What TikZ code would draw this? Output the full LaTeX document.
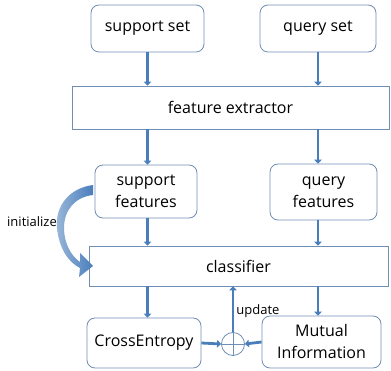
\documentclass[tikz,border=0pt]{standalone}
\usepackage{fontspec}
\setmainfont{Open Sans}
\usetikzlibrary{arrows.meta}
\definecolor{linkblue}{RGB}{74,126,187}
\definecolor{edgegray}{RGB}{112,142,180}
\tikzset{
  rbox/.style={draw=edgegray, line width=0.8pt, rounded corners=8pt, align=center, inner sep=0pt, font=\fontsize{16}{22}\selectfont},
  sbox/.style={draw=edgegray, line width=0.8pt, inner sep=0pt, font=\fontsize{16}{22}\selectfont},
  flow/.style={draw=linkblue, line width=2.8pt, -{Triangle[length=4pt,width=7.5pt]}},
}
\begin{document}
\begin{tikzpicture}[x=1pt,y=-1pt]
	\useasboundingbox (0,0) rectangle (391,371);
	% boxes
	\node[rbox, minimum width=113pt, minimum height=47pt] (sset) at (147.5,28.5) {support set};
	\node[rbox, minimum width=116pt, minimum height=47pt] (qset) at (318,28.5) {query set};
	\node[sbox, minimum width=317pt, minimum height=43pt] (fext) at (230.5,107.5) {feature extractor};
	\node[rbox, minimum width=102pt, minimum height=53pt] (sfeat) at (146,191.5) {support\\features};
	\node[rbox, minimum width=107pt, minimum height=56pt] (qfeat) at (323.5,192) {query\\features};
	\node[sbox, minimum width=299pt, minimum height=40pt] (clf) at (238.5,266) {classifier};
	\node[rbox, minimum width=114pt, minimum height=50pt] (ce) at (144,343) {CrossEntropy};
	\node[rbox, minimum width=119pt, minimum height=52pt] (mi) at (321.5,342) {Mutual\\Information};
	\node[draw=edgegray, circle, minimum size=23pt, inner sep=0pt, line width=0.8pt] (sum) at (233,344) {};
	\draw[edgegray, line width=0.8pt] (sum.north) -- (sum.south) (sum.west) -- (sum.east);
	% arrows
	\draw[flow] (sset.south) -- (sset.south |- fext.north);
	\draw[flow] (qset.south) -- (qset.south |- fext.north);
	\draw[flow] (sset.south |- fext.south) -- (sset.south |- sfeat.north);
	\draw[flow] (qset.south |- fext.south) -- (qset.south |- qfeat.north);
	\draw[flow] (sset.south |- sfeat.south) -- (sset.south |- clf.north);
	\draw[flow] (qset.south |- qfeat.south) -- (qset.south |- clf.north);
	\draw[flow] (sset.south |- clf.south) -- (sset.south |- ce.north);
	\draw[flow] (qset.south |- clf.south) -- (qset.south |- mi.north);
	\draw[flow] (ce.east) -- (sum.west);
	\draw[flow] (mi.west) -- (sum.east);
	\draw[flow] (sum.north) -- (sum.north |- clf.south) node[pos=0.45, right, inner sep=2pt, font=\fontsize{13}{15}\selectfont] {update};
	% initialize
	\shade[left color=linkblue!55, right color=linkblue] (93,185) .. controls (70,188) and (55,205) .. (57,228) .. controls (59,248) and (68,262) .. (80,268) -- (79,277) -- (93,266) -- (80,253) -- (80,262) .. controls (71,256) and (64,243) .. (64,228) .. controls (64,210) and (75,197) .. (93,195) -- cycle;
	\node[font=\fontsize{13}{15}\selectfont] (init) at (32,222) {initialize};
\end{tikzpicture}
\end{document}
